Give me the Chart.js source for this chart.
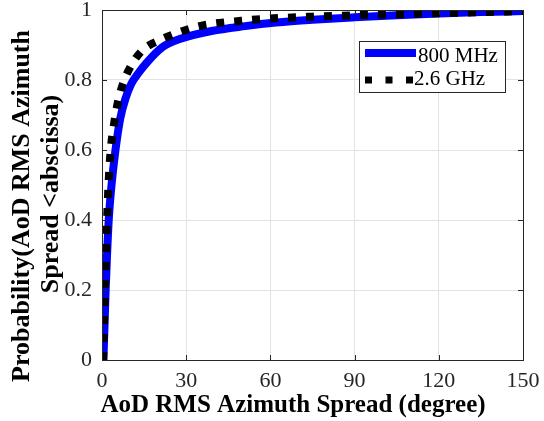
<!DOCTYPE html>
<html>
<head>
<meta charset="utf-8">
<script src="https://cdn.jsdelivr.net/npm/chart.js@4.4.1/dist/chart.umd.min.js"></script>
<style>
  html, body { margin: 0; padding: 0; background: #ffffff; }
  canvas { display: block; }
</style>
</head>
<body>
<canvas id="c" width="544" height="421"></canvas>
<script>
// ---- data ----
const seriesNames = ['800 MHz', '2.6 GHz'];
const x800 = [0.5, 0.9, 1.3, 1.8, 2.4, 3.4, 4.8, 6.5, 8.5, 10.5, 13, 16, 21.6, 27.7, 39, 51, 62, 75, 90, 105, 120, 135, 150];
const y800 = [0, 0.1, 0.2, 0.3, 0.4, 0.5, 0.6, 0.69, 0.75, 0.79, 0.82, 0.85, 0.894, 0.917, 0.94, 0.954, 0.964, 0.972, 0.979, 0.985, 0.99, 0.994, 0.997];
const x26 = [0.4, 0.7, 1.0, 1.4, 1.8, 2.4, 3.1, 4.4, 5.7, 7.5, 10.5, 14.6, 21.2, 27.7, 34.8, 41.8, 49.6, 56.7, 75, 90, 105, 120, 135, 150];
const y26 = [0, 0.1, 0.2, 0.3, 0.4, 0.514, 0.6, 0.68, 0.738, 0.79, 0.843, 0.886, 0.916, 0.937, 0.954, 0.963, 0.969, 0.974, 0.981, 0.985, 0.988, 0.991, 0.994, 0.997];
const xTickLabels = ['0', '30', '60', '90', '120', '150'];
const yTickLabels = ['0', '0.2', '0.4', '0.6', '0.8', '1'];
const xTitle = 'AoD RMS Azimuth Spread (degree)';
const yTitleLines = ['Probability(AoD RMS Azimuth', 'Spread <abscissa)'];

const pts = (xs, ys) => xs.map((x, i) => ({ x: x, y: ys[i] }));
const SERIF = '"Liberation Serif", "Times New Roman", serif';
const AXIS = '#262626';

const decorPlugin = {
  id: 'decor',
  afterDraw(chart) {
    const ctx = chart.ctx;
    const a = chart.chartArea;
    const xs = chart.scales.x, ys = chart.scales.y;
    ctx.save();
    // inward tick marks
    ctx.strokeStyle = AXIS;
    ctx.lineWidth = 1;
    ctx.beginPath();
    xs.ticks.forEach(t => {
      const px = Math.round(xs.getPixelForValue(t.value)) + 0.5;
      ctx.moveTo(px, a.bottom); ctx.lineTo(px, a.bottom - 5);
      ctx.moveTo(px, a.top); ctx.lineTo(px, a.top + 5);
    });
    ys.ticks.forEach(t => {
      const py = Math.round(ys.getPixelForValue(t.value)) + 0.5;
      ctx.moveTo(a.left, py); ctx.lineTo(a.left + 5, py);
      ctx.moveTo(a.right, py); ctx.lineTo(a.right - 5, py);
    });
    ctx.stroke();
    // box
    ctx.strokeRect(Math.round(a.left) + 0.5, Math.round(a.top) + 0.5,
                   Math.round(a.right - a.left), Math.round(a.bottom - a.top));

    // legend
    const lx = 359, ly = 41, lw = 146, lh = 51;
    ctx.fillStyle = '#ffffff';
    ctx.fillRect(lx, ly, lw, lh);
    ctx.strokeStyle = AXIS;
    ctx.lineWidth = 1;
    ctx.strokeRect(lx + 0.5, ly + 0.5, lw, lh);
    const ds = chart.data.datasets;
    // row 1
    ctx.strokeStyle = ds[0].borderColor;
    ctx.lineWidth = 8;
    ctx.setLineDash([]);
    ctx.beginPath(); ctx.moveTo(365, 53); ctx.lineTo(416, 53); ctx.stroke();
    // row 2
    ctx.strokeStyle = ds[1].borderColor;
    ctx.lineWidth = 7;
    ctx.setLineDash([7, 13.5]);
    ctx.lineCap = 'butt';
    ctx.beginPath(); ctx.moveTo(365, 80); ctx.lineTo(413, 80); ctx.stroke();
    ctx.setLineDash([]);
    ctx.fillStyle = '#000000';
    ctx.font = '21px ' + SERIF;
    ctx.textAlign = 'left';
    ctx.textBaseline = 'alphabetic';
    ctx.fillText(ds[0].label, 418, 62);
    ctx.fillText(ds[1].label, 414, 85);

    // x title
    ctx.font = 'bold 25px ' + SERIF;
    ctx.textAlign = 'center';
    ctx.fillText(xTitle, 293, 412);

    // y title (two lines, rotated)
    ctx.save();
    ctx.translate(29, 206);
    ctx.rotate(-Math.PI / 2);
    ctx.font = 'bold 26px ' + SERIF;
    ctx.fillText(yTitleLines[0], 0, 0);
    ctx.restore();
    ctx.save();
    ctx.translate(58, 194);
    ctx.rotate(-Math.PI / 2);
    ctx.font = 'bold 26px ' + SERIF;
    ctx.fillText(yTitleLines[1], 0, 0);
    ctx.restore();

    ctx.restore();
  }
};

new Chart(document.getElementById('c'), {
  type: 'line',
  data: {
    datasets: [
      {
        label: seriesNames[0],
        data: pts(x800, y800),
        borderColor: '#0000ff',
        borderWidth: 8,
        pointRadius: 0,
        fill: false,
        cubicInterpolationMode: 'monotone',
        order: 2
      },
      {
        label: seriesNames[1],
        data: pts(x26, y26),
        borderColor: '#000000',
        borderWidth: 8,
        borderDash: [8, 10],
        borderCapStyle: 'butt',
        pointRadius: 0,
        fill: false,
        cubicInterpolationMode: 'monotone',
        order: 1
      }
    ]
  },
  options: {
    responsive: false,
    animation: false,
    events: [],
    layout: { padding: { top: 10, right: 21, left: 0, bottom: 0 } },
    plugins: {
      legend: { display: false },
      tooltip: { enabled: false },
      title: { display: false }
    },
    scales: {
      x: {
        type: 'linear',
        min: 0, max: 150,
        afterFit(s) { s.height = 61; s.paddingLeft = 0; s.paddingRight = 0; },
        afterBuildTicks(s) { s.ticks = xTickLabels.map(v => ({ value: Number(v) })); },
        ticks: {
          callback: (v) => xTickLabels.find(l => Number(l) === v) ?? '',
          font: { family: SERIF, size: 22 },
          color: AXIS,
          padding: 8,
          maxRotation: 0,
          autoSkip: false
        },
        grid: { color: '#e3e3e3', drawTicks: false },
        border: { display: false }
      },
      y: {
        type: 'linear',
        min: 0, max: 1,
        afterFit(s) { s.width = 102; s.paddingTop = 0; s.paddingBottom = 0; },
        afterBuildTicks(s) { s.ticks = yTickLabels.map(v => ({ value: Number(v) })); },
        ticks: {
          callback: (v) => yTickLabels.find(l => Math.abs(Number(l) - v) < 1e-9) ?? '',
          font: { family: SERIF, size: 22 },
          color: AXIS,
          padding: 10,
          autoSkip: false
        },
        grid: { color: '#e3e3e3', drawTicks: false },
        border: { display: false }
      }
    }
  },
  plugins: [decorPlugin]
});
</script>
</body>
</html>
